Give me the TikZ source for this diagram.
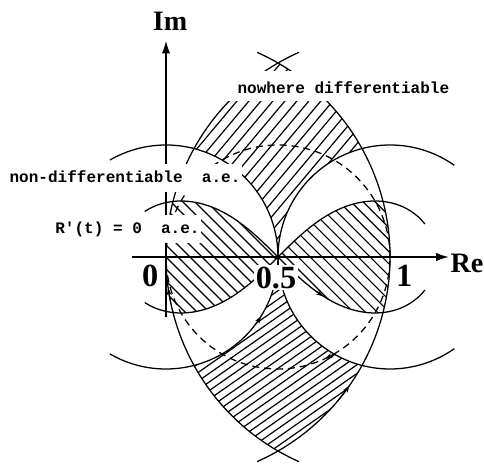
\documentclass[tikz,border=0pt]{standalone}
\usepackage{fontspec}
\setmainfont{Liberation Serif}
\setmonofont{Liberation Mono}
\usetikzlibrary{arrows.meta,positioning}

\begin{document}
\begin{tikzpicture}[x=5.6cm, y=5.6cm,
    curve/.style={draw=black, line width=0.9pt},
    dashcurve/.style={draw=black, line width=0.9pt, dash pattern=on 5pt off 3.5pt},
    axis/.style={draw, line width=0.9pt, -{Latex[length=9pt, width=6pt]}},
    hatchline/.style={draw=black, line width=0.85pt},
    tick/.style={-{Stealth[length=5pt, width=3.5pt]}, line width=0.8pt},
    lbl/.style={font=\ttfamily\bfseries\fontsize{11.4}{13}\selectfont, inner xsep=1pt, text height=8pt, text depth=2pt},
    mask/.style={lbl, fill=white, minimum height=20.5pt},
    num/.style={font=\bfseries\fontsize{23}{26}\selectfont, fill=white, inner sep=1pt},
    ax/.style={font=\bfseries\fontsize{20}{23}\selectfont, inner sep=0pt}]

    \useasboundingbox (-0.7411,-0.9464) rectangle (1.4196,1.1473);

    % hatched regions inside both unit discs
    \begin{scope}
        \clip (0,0) circle (1);
        \clip (1,0) circle (1);
        \begin{scope}[even odd rule]
            \clip (-1,0) rectangle (2,1);
            \clip (-1,-1) rectangle (2,1) (0,0) circle (0.5) (1,0) circle (0.5);
            \foreach \i in {-25,...,45}
                \draw[hatchline] ({\i*0.0535},0) ++(50:-2) -- ++(50:4);
        \end{scope}
        \begin{scope}[even odd rule]
            \clip (-1,-1) rectangle (2,0);
            \clip (-1,-1) rectangle (2,1) (0,0) circle (0.5) (1,0) circle (0.5);
            \foreach \i in {-25,...,45}
                \draw[hatchline] ({\i*0.055},0) ++(35:-2) -- ++(35:4);
        \end{scope}
        \begin{scope}
            \clip plot[domain=0:360, samples=145, smooth]
                ({0.5+0.7071*cos(\x)/(1+sin(\x)*sin(\x))}, {0.7071*sin(\x)*cos(\x)/(1+sin(\x)*sin(\x))});
            \foreach \i in {-25,...,45}
                \draw[hatchline] ({\i*0.0536},0) ++(135:-2) -- ++(135:4);
        \end{scope}
    \end{scope}

    % circles
    \draw[curve] (1,0) ++(246:1) arc[start angle=246, end angle=114, radius=1];
    \draw[curve] (0,0) ++(-66:1) arc[start angle=-66, end angle=66, radius=1];
    \draw[curve] (0,0) ++(-120:0.5) arc[start angle=-120, end angle=120, radius=0.5];
    \draw[curve] (1,0) ++(55:0.5) arc[start angle=55, end angle=305, radius=0.5];
    \draw[dashcurve] (0.5,0) circle (0.5);

    % lemniscate |a||1-a| = 1/4
    \draw[curve] plot[domain=13:160, samples=60, smooth]
        ({0.5+0.7071*cos(\x)/(1+sin(\x)*sin(\x))}, {0.7071*sin(\x)*cos(\x)/(1+sin(\x)*sin(\x))});
    \draw[curve] plot[domain=200:347, samples=60, smooth]
        ({0.5+0.7071*cos(\x)/(1+sin(\x)*sin(\x))}, {0.7071*sin(\x)*cos(\x)/(1+sin(\x)*sin(\x))});

    % axes
    \coordinate (reL) at (-0.152,0);
    \coordinate (reR) at (1.262,0);
    \coordinate (imB) at (0,-0.27);
    \coordinate (imT) at (0,0.965);
    \path[axis] (reL) -- (reR);
    \path[axis] (imB) -- (imT);

    % small arrowheads on the curves
    \draw[tick] (1,0) ++(192:1) arc[start angle=192, end angle=188, radius=1];
    \draw[tick] (0,0) ++(-37:0.5) arc[start angle=-37, end angle=-32, radius=0.5];
    \draw[tick] (0,0) ++(-40:1) arc[start angle=-40, end angle=-35, radius=1];
    \draw[tick] (0.5,0) ++(-60:0.5) arc[start angle=-60, end angle=-65, radius=0.5];
    \draw[tick] plot[domain=296:300, samples=5]
        ({0.5+0.7071*cos(\x)/(1+sin(\x)*sin(\x))}, {0.7071*sin(\x)*cos(\x)/(1+sin(\x)*sin(\x))});

    % labels
    \fill[white] (0.263,0.696) rectangle (1.29,0.830);
    \node[lbl] (nowhere) at (0.792,0.75) {nowhere differentiable};
    \node[mask] (nondiff) at (-0.183,0.353) {non-differentiable~~a.e.};
    \node[mask] (rzero) at (-0.172,0.125) {R'(t) = 0~~a.e.};

    \node[ax] (im) at (0.018,1.054) {Im};
    \node[ax] (re) at (1.344,-0.027) {Re};
    \node[num] (zero) at (-0.071,-0.085) {0};
    \node[num] (half) at (0.491,-0.092) {0.5};
    \node[num] (one) at (1.063,-0.085) {1};
\end{tikzpicture}
\end{document}
